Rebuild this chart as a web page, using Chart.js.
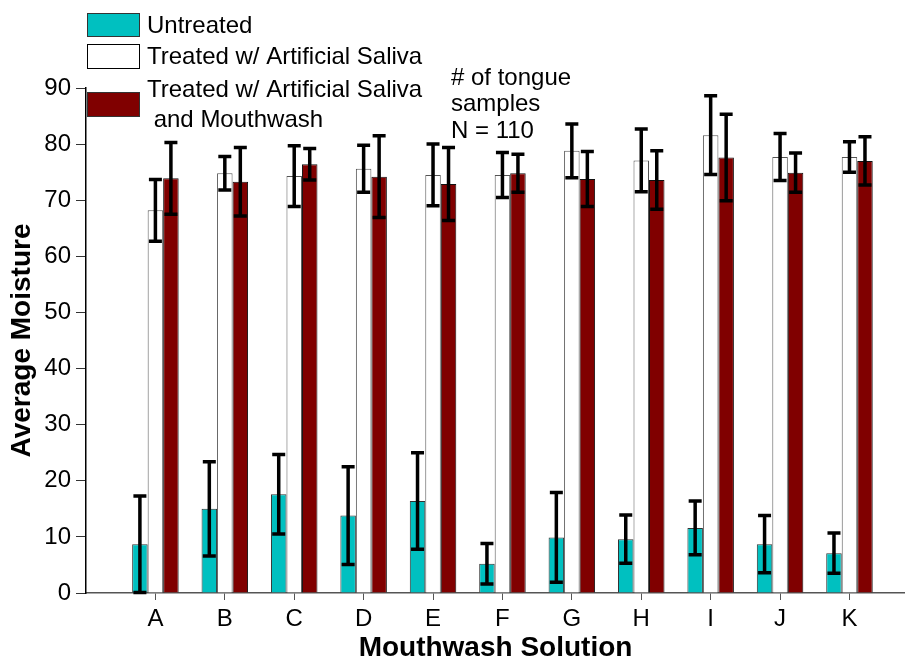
<!DOCTYPE html>
<html>
<head>
<meta charset="utf-8">
<script src="https://cdn.jsdelivr.net/npm/chart.js@4.4.0/dist/chart.umd.min.js"></script>
<style>
  body { margin: 0; background: #fff; }
</style>
</head>
<body>
<canvas id="chartBar" width="905" height="660"></canvas>
<script>
const labels = ["A", "B", "C", "D", "E", "F", "G", "H", "I", "J", "K"];

const untreated = [8.7, 15.0, 17.6, 13.8, 16.4, 5.2, 9.9, 9.6, 11.6, 8.7, 7.1];
const untreatedErr = [8.6, 8.4, 7.1, 8.7, 8.6, 3.6, 8.0, 4.3, 4.8, 5.1, 3.6];

const saliva = [68.2, 74.8, 74.3, 75.6, 74.5, 74.5, 78.8, 77.1, 81.6, 77.7, 77.7];
const salivaErr = [5.5, 3.0, 5.4, 4.2, 5.5, 4.0, 4.8, 5.6, 7.0, 4.2, 2.7];

const mouthwash = [73.9, 73.3, 76.4, 74.2, 72.9, 74.8, 73.8, 73.6, 77.6, 74.9, 77.0];
const mouthwashErr = [6.4, 6.1, 2.8, 7.3, 6.5, 3.4, 4.9, 5.2, 7.7, 3.5, 4.3];

const yTicks = [0, 10, 20, 30, 40, 50, 60, 70, 80, 90];

function toPoints(values) {
  return values.map((v, i) => ({ x: i + 1, y: v }));
}

const errors = [untreatedErr, salivaErr, mouthwashErr];

// error bars on top of each bar
const errorBars = {
  id: "errorBars",
  afterDatasetsDraw(chart) {
    const ctx = chart.ctx;
    const yScale = chart.scales.y;
    ctx.save();
    ctx.strokeStyle = "#000";
    ctx.lineWidth = 3.5;
    chart.data.datasets.forEach((ds, i) => {
      const meta = chart.getDatasetMeta(i);
      meta.data.forEach((bar, j) => {
        const v = ds.data[j].y;
        const e = errors[i][j];
        const top = yScale.getPixelForValue(v + e);
        const bot = yScale.getPixelForValue(Math.max(v - e, 0));
        const x = bar.x;
        ctx.beginPath();
        ctx.moveTo(x, top);
        ctx.lineTo(x, bot);
        ctx.moveTo(x - 6.5, top);
        ctx.lineTo(x + 6.5, top);
        ctx.moveTo(x - 6.5, bot);
        ctx.lineTo(x + 6.5, bot);
        ctx.stroke();
      });
    });
    ctx.restore();
  }
};

// legend and note drawn by hand, placed like the original
const legendNote = {
  id: "legendNote",
  afterDraw(chart) {
    const ctx = chart.ctx;
    ctx.save();
    ctx.lineWidth = 1;
    ctx.fillStyle = "#00C0C0";
    ctx.fillRect(87, 13, 53, 24);
    ctx.strokeStyle = "#333";
    ctx.strokeRect(87.5, 13.5, 52, 23);
    ctx.fillStyle = "#fff";
    ctx.fillRect(87, 44, 53, 25);
    ctx.strokeStyle = "#000";
    ctx.strokeRect(87.5, 44.5, 52, 24);
    ctx.fillStyle = "#800000";
    ctx.fillRect(87, 92, 53, 25);
    ctx.strokeStyle = "#333";
    ctx.strokeRect(87.5, 92.5, 52, 24);

    ctx.fillStyle = "#000";
    ctx.font = "24px 'Liberation Sans', Arial, sans-serif";
    ctx.textBaseline = "middle";
    ctx.textAlign = "left";
    ctx.fillText("Untreated", 147, 26);
    ctx.fillText("Treated w/ Artificial Saliva", 147, 57);
    ctx.fillText("Treated w/ Artificial Saliva", 147, 90);
    ctx.fillText(" and Mouthwash", 147, 120);

    ctx.fillText("# of tongue", 451, 78);
    ctx.fillText("samples", 451, 104);
    ctx.fillText("N = 110", 451, 131);
    ctx.restore();
  }
};

const data = {
  datasets: [
    {
      label: "Untreated",
      backgroundColor: "#00C0C0",
      borderColor: "#333",
      borderWidth: 1,
      data: toPoints(untreated),
    },
    {
      label: "Treated w/ Artificial Saliva",
      backgroundColor: "#ffffff",
      borderColor: "#555",
      borderWidth: 1,
      data: toPoints(saliva),
    },
    {
      label: "Treated w/ Artificial Saliva and Mouthwash",
      backgroundColor: "#800000",
      borderColor: "#111",
      borderWidth: 1,
      data: toPoints(mouthwash),
    },
  ],
};

const config = {
  type: "bar",
  data,
  options: {
    responsive: false,
    animation: false,
    layout: { padding: { top: 88, left: 0, right: 0, bottom: 0 } },
    categoryPercentage: 0.67,
    barPercentage: 1,
    plugins: {
      legend: { display: false },
      tooltip: { enabled: false },
    },
    scales: {
      x: {
        type: "linear",
        min: 0,
        max: 11.8,
        offset: false,
        afterFit(scale) { scale.height = 67; },
        afterBuildTicks(scale) {
          scale.ticks = labels.map((l, i) => ({ value: i + 1 }));
        },
        grid: { offset: false, drawOnChartArea: false, drawTicks: true, tickLength: 7, color: "#555", lineWidth: 1 },
        border: { display: true, color: "#555", width: 1.5 },
        ticks: {
          color: "#000",
          padding: 5,
          font: { family: "'Liberation Sans', Arial", size: 24 },
          callback: (v) => labels[v - 1] || "",
          maxRotation: 0,
          autoSkip: false,
        },
        title: {
          display: true,
          text: "Mouthwash Solution",
          color: "#000",
          font: { family: "'Liberation Sans', Arial", size: 28, weight: "bold", lineHeight: 1 },
          padding: { top: 0, bottom: -2 },
        },
      },
      y: {
        min: 0,
        max: 90,
        afterFit(scale) { scale.width = 86; },
        afterBuildTicks(scale) {
          scale.ticks = yTicks.map((v) => ({ value: v }));
        },
        grid: { drawOnChartArea: false, drawTicks: true, tickLength: 10, color: "#333", lineWidth: 1 },
        border: { display: true, color: "#000", width: 1.5 },
        ticks: {
          color: "#000",
          padding: 5,
          font: { family: "'Liberation Sans', Arial", size: 24 },
        },
        title: {
          display: true,
          text: "Average Moisture",
          color: "#000",
          font: { family: "'Liberation Sans', Arial", size: 28, weight: "bold", lineHeight: 1 },
          padding: { top: 8, bottom: 0 },
        },
      },
    },
  },
  plugins: [errorBars, legendNote],
};

var chartBar = new Chart(document.getElementById("chartBar"), config);
</script>
</body>
</html>
